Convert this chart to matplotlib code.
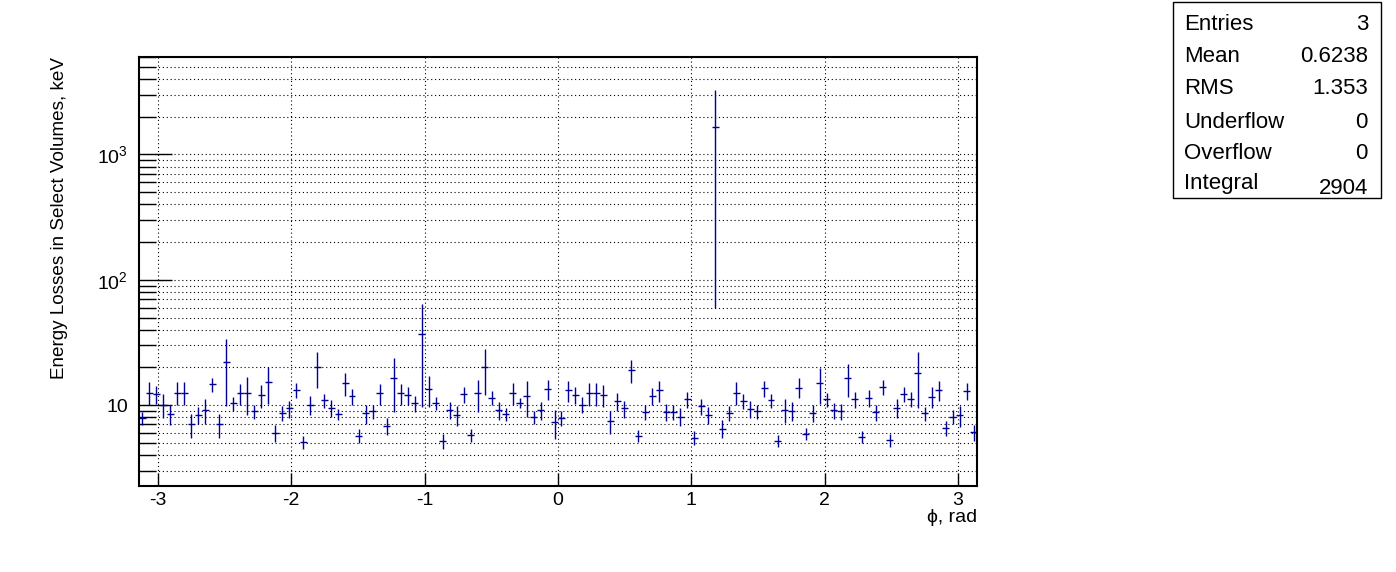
import numpy as np
import matplotlib
matplotlib.use('Agg')
import matplotlib.pyplot as plt
from matplotlib.patches import Rectangle
from matplotlib.ticker import FixedLocator, FixedFormatter, LogLocator, NullFormatter

plt.rcParams['font.family'] = ['Liberation Sans', 'DejaVu Sans']
plt.rcParams['mathtext.fontset'] = 'custom'
plt.rcParams['mathtext.rm'] = 'Liberation Sans'
plt.rcParams['mathtext.it'] = 'Liberation Sans:italic'
plt.rcParams['axes.unicode_minus'] = False

# energy deposit per phi bin (keV) and its error, 120 bins in [-pi, pi]
energy = [
    7.9, 12.6, 12.2, 10.1, 8.5, 12.6, 12.6, 7.0, 8.3, 9.1,
    14.6, 7.0, 21.9, 10.3, 12.4, 12.6, 8.9, 12.0, 15.2, 6.0,
    8.6, 9.4, 13.2, 5.06, 10.1, 20.1, 10.9, 9.5, 8.5, 14.9,
    11.8, 5.7, 8.6, 8.9, 12.4, 6.8, 16.3, 12.4, 12.0, 10.3,
    36.7, 13.4, 10.4, 5.2, 9.2, 8.3, 12.25, 5.75, 12.4, 20.0,
    11.45, 9.1, 8.5, 12.6, 10.4, 11.8, 8.0, 9.1, 13.35, 7.3,
    7.9, 13.1, 12.1, 10.1, 12.4, 12.4, 12.0, 7.4, 10.75, 9.4,
    18.9, 5.7, 8.8, 11.9, 13.1, 8.8, 8.8, 8.1, 11.1, 5.5,
    9.8, 8.3, 1655.0, 6.5, 8.6, 12.6, 10.75, 9.3, 8.9, 13.6,
    10.9, 5.2, 9.2, 9.0, 13.8, 5.9, 8.7, 14.9, 11.1, 9.1,
    8.95, 16.4, 11.1, 5.6, 11.45, 8.8, 14.0, 5.25, 9.5, 12.2,
    11.2, 18.0, 8.6, 11.7, 13.2, 6.6, 8.1, 8.3, 12.95, 6.05,
]
energy_err = [
    0.95, 2.6, 2.0, 2.2, 1.6, 2.6, 2.6, 1.55, 1.3, 2.0,
    1.8, 1.5, 12.0, 1.4, 2.3, 4.2, 1.2, 2.5, 5.0, 0.95,
    1.15, 1.45, 1.85, 0.56, 1.7, 6.3, 1.4, 1.4, 0.87, 3.0,
    1.75, 0.7, 1.5, 1.2, 2.4, 1.05, 7.5, 2.3, 2.0, 1.5,
    27.0, 3.7, 1.2, 0.7, 1.4, 1.45, 1.8, 0.7, 3.6, 8.0,
    1.4, 1.5, 1.0, 2.5, 0.9, 3.8, 1.0, 1.5, 2.4, 1.9,
    1.1, 2.6, 1.9, 1.4, 2.5, 2.5, 2.4, 1.5, 1.7, 1.45,
    3.8, 0.65, 1.2, 1.8, 2.6, 1.4, 1.2, 1.3, 1.7, 0.7,
    1.4, 1.3, 1595.0, 1.05, 1.2, 2.6, 1.4, 1.4, 1.1, 2.1,
    1.4, 0.6, 2.0, 1.6, 2.5, 0.65, 1.4, 4.7, 1.5, 1.3,
    1.3, 4.7, 1.6, 0.65, 1.8, 1.3, 2.0, 0.6, 1.6, 1.7,
    1.6, 8.5, 1.1, 2.2, 2.5, 0.9, 1.0, 1.6, 2.0, 0.85,
]

xticks = [-3, -2, -1, 0, 1, 2, 3]
xticklabels = ['-3', '-2', '-1', '0', '1', '2', '3']
yticks = [10, 100, 1000]
yticklabels = ['10', '$10^{2}$', '$10^{3}$']

stat_names = ['Entries', 'Mean', 'RMS', 'Underflow', 'Overflow', 'Integral']
stat_values = ['3', '0.6238', '1.353', '0', '0', '2904']

nbins = len(energy)
edges = np.linspace(-np.pi, np.pi, nbins + 1)
centers = 0.5 * (edges[1:] + edges[:-1])
halfw = 0.5 * (edges[1] - edges[0])

W, H = 1396, 572
fig = plt.figure(figsize=(W / 100, H / 100), dpi=100)
ax = fig.add_axes([139 / W, 1 - 486 / H, 838 / W, 429 / H])

ax.errorbar(centers, energy, xerr=halfw, yerr=energy_err, fmt='none',
            ecolor='#000099', elinewidth=1, capsize=0)

ax.set_yscale('log')
ax.set_xlim(-np.pi, np.pi)
ax.set_ylim(2.26, 6000)

ax.xaxis.set_major_locator(FixedLocator(xticks))
ax.xaxis.set_major_formatter(FixedFormatter(xticklabels))
ax.yaxis.set_major_locator(FixedLocator(yticks))
ax.yaxis.set_major_formatter(FixedFormatter(yticklabels))
ax.yaxis.set_minor_locator(LogLocator(base=10, subs=range(2, 10)))
ax.yaxis.set_minor_formatter(NullFormatter())

ax.tick_params(axis='x', which='major', direction='in', length=9.5, width=1,
               top=False, labelsize=14, pad=4)
ax.tick_params(axis='x', which='minor', bottom=False, top=False)
ax.tick_params(axis='y', which='major', direction='in', length=23.5, width=1,
               right=False, labelsize=14, pad=8)
ax.tick_params(axis='y', which='minor', direction='in', length=12, width=1,
               right=False)

ax.grid(True, which='major', axis='both', color='black', linestyle=(0, (1, 2.5)), lw=0.8)
ax.grid(True, which='minor', axis='y', color='black', linestyle=(0, (1, 2.5)), lw=0.8)
ax.set_axisbelow(True)
for s in ax.spines.values():
    s.set_linewidth(1.5)

fig.text(60 / W, 1 - 57 / H, 'Energy Losses in Select Volumes, keV', rotation=90,
         ha='center', va='top', fontsize=13.6)
fig.text(977 / W, 1 - 517 / H, 'ϕ, rad', ha='right', va='center', fontsize=14)

# stats box
fig.patches.append(Rectangle((1173 / W, 1 - 198 / H), 208 / W, 196 / H,
                             transform=fig.transFigure, fill=False,
                             edgecolor='black', lw=1))
rows_y = [24, 57, 89, 122, 154, 184]
for i, (name, val) in enumerate(zip(stat_names, stat_values)):
    fig.text(1184 / W, 1 - rows_y[i] / H, name, ha='left', va='center', fontsize=16)
    vy = rows_y[i] + (4 if name == 'Integral' else 0)
    fig.text(1368 / W, 1 - vy / H, val, ha='right', va='center', fontsize=16)

fig.savefig('out.png', dpi=100)
